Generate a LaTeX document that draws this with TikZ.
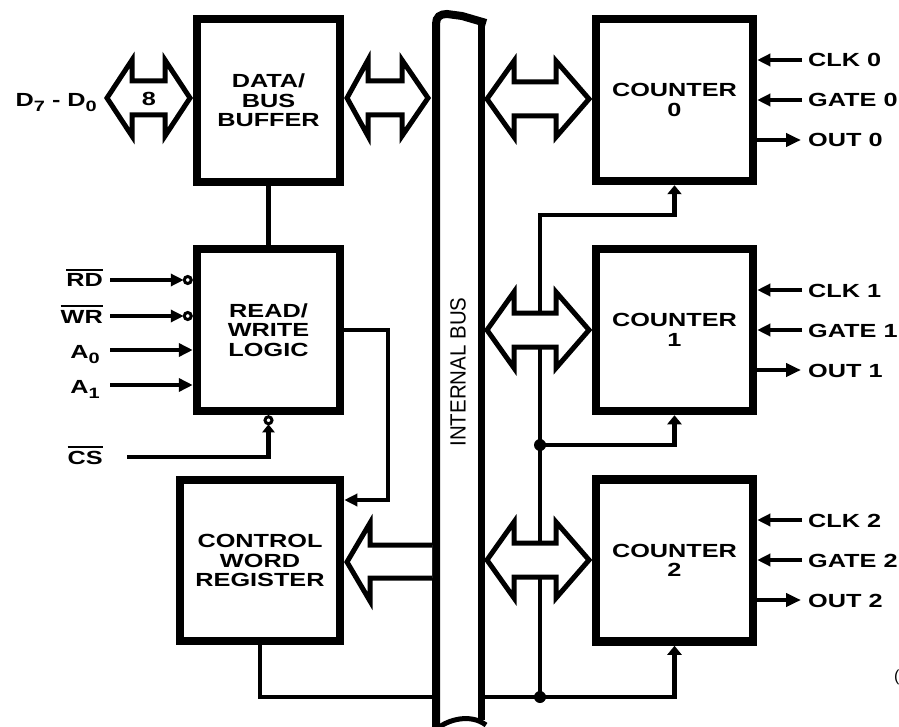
\documentclass[tikz,border=0pt]{standalone}
\usepackage{fontspec}
\setmainfont{Liberation Sans}
\newfontfamily\bx[FakeStretch=1.33]{Liberation Sans}
\newfontfamily\busf[FakeStretch=0.93]{Liberation Sans}
\usetikzlibrary{arrows.meta,calc}
\newcommand\negsig[1]{\leavevmode\vbox{\hrule height 2pt\kern 2.5pt\hbox{#1}}}
\newcommand\sbs[1]{\raisebox{-5pt}{\fontsize{15}{15}\selectfont #1}}
\newcommand\dblarr[5]{%
  \filldraw[blockarrow] (#1,#3) -- (#1+#4,#3-38) -- (#1+#4,#3-17) -- (#2-#5,#3-17) -- (#2-#5,#3-38) -- (#2,#3)
    -- (#2-#5,#3+38) -- (#2-#5,#3+17) -- (#1+#4,#3+17) -- (#1+#4,#3+38) -- cycle;}
\begin{document}
\begin{tikzpicture}[x=1pt,y=-1pt,
  box/.style={draw, line width=8.5pt, fill=white, inner sep=0pt, align=center,
    font=\bx\bfseries\fontsize{19}{19.5}\selectfont},
  conn/.style={line width=4.5pt},
  sig/.style={line width=4.5pt},
  lbl/.style={inner sep=0pt, font=\bx\bfseries\fontsize{19}{19}\selectfont},
  blockarrow/.style={line width=5pt, fill=white, line join=miter},
  tipR/.style={-{Triangle[length=13pt,width=12pt]}},
  tipA/.style={-{Triangle[length=14pt,width=13pt]}},
  tipU/.style={-{Triangle[length=8pt,width=12pt]}},
  tipS/.style={-{Triangle[length=9pt,width=14pt]}},
  tipO/.style={-{Triangle[length=15pt,width=13pt]}},
  bub/.style={line width=3pt, fill=white},
  jdot/.style={circle, fill=black, inner sep=0pt, minimum size=12pt}]
\useasboundingbox (0,0) rectangle (899,727);
\fill[white] (0,0) rectangle (899,727);

% boxes
\node[box, minimum width=143pt, minimum height=163pt] (dbb) at (268.5,100.5) {DATA/\\BUS\\BUFFER};
\node[box, minimum width=143pt, minimum height=162pt] (rwl) at (268.5,330) {READ/\\WRITE\\LOGIC};
\node[box, minimum width=160pt, minimum height=161pt] (cwr) at (260,560.5) {CONTROL\\WORD\\REGISTER};
\node[box, minimum width=157pt, minimum height=162pt] (c0) at (674.5,100) {COUNTER\\0};
\node[box, minimum width=157pt, minimum height=162pt] (c1) at (674.5,330) {COUNTER\\1};
\node[box, minimum width=157pt, minimum height=162pt] (c2) at (674.5,560.5) {COUNTER\\2};

% buffer to read/write logic
\draw[conn] (dbb.south) -- (rwl.north);

% left inputs
\coordinate (rdS) at (110,280);
\coordinate (wrS) at (110,316);
\coordinate (a0S) at (110,350);
\coordinate (a1S) at (110,385);
\coordinate (csS) at (127,457);
\node[lbl, anchor=base east] (rdL) at (103,287) {\negsig{RD}};
\node[lbl, anchor=base east] (wrL) at (103,323) {\negsig{WR}};
\node[lbl, anchor=base east] (a0L) at (100,358) {A\sbs{0}};
\node[lbl, anchor=base east] (a1L) at (100,393) {A\sbs{1}};
\node[lbl, anchor=base east] (csL) at (103,464) {\negsig{CS}};
\draw[sig, tipR] (rdS) -- ($(rdS -| rwl.west)+(-9,0)$);
\draw[bub] ($(rdS -| rwl.west)+(-5,0)$) circle[radius=3.5pt];
\draw[sig, tipR] (wrS) -- ($(wrS -| rwl.west)+(-9,0)$);
\draw[bub] ($(wrS -| rwl.west)+(-5,0)$) circle[radius=3.5pt];
\draw[sig, tipA] (a0S) -- (a0S -| rwl.west);
\draw[sig, tipA] (a1S) -- (a1S -| rwl.west);
\draw[sig, tipU] (csS) -| ($(rwl.south)+(0,9)$);
\draw[bub] ($(rwl.south)+(0,5)$) circle[radius=3.5pt];

% read/write logic to control word register
\coordinate (k) at (388,500);
\draw[conn, tipR] (rwl.east) -| (k) -- (k -| cwr.east);

% counter gate lines
\coordinate (j0) at (540,215);
\coordinate (j1) at (540,445);
\coordinate (j2) at (540,697);
\draw[conn, tipS] (cwr.south) |- (j2) -| (c2.south);
\draw[conn, tipS] (j2) -- (j0) -| (c0.south);
\draw[conn, tipS] (j1) -| (c1.south);
\node[jdot] (d1) at (j1) {};
\node[jdot] (d2) at (j2) {};

% internal bus
\fill[white] (436,20) rectangle (481,722);
\draw[line width=8pt] (436,730) -- (436,24) .. controls (436,17) and (440,14) .. (447,14) -- (462,16) -- (486,23);
\draw[line width=7pt] (481,21) -- (481,720);
\draw[line width=5pt] (438,728) .. controls (448,720) and (470,713) .. (486,725);
\node[rotate=90, inner sep=0pt, font=\busf\fontsize{22}{22}\selectfont] (busT) at (458,372) {INTERNAL BUS};

% block arrows
\dblarr{107}{190}{98}{25}{25}
\node[lbl] (eight) at (149,99) {8};
\node[lbl, anchor=base east] (dL) at (97,107) {D\sbs{7} - D\sbs{0}};
\dblarr{347}{428}{98}{21}{26}
\dblarr{487}{589}{99}{27}{33}
\dblarr{487}{589}{330}{27}{33}
\dblarr{487}{589}{560}{27}{33}
\filldraw[blockarrow] (432,545) -- (370,545) -- (370,523) -- (347,562) -- (370,601) -- (370,578) -- (432,578);

% counter signals
\foreach \i/\y in {0/100,1/330,2/560}{
  \coordinate (clk\i) at (802,\y-40);
  \coordinate (gate\i) at (802,\y);
  \coordinate (out\i) at (801,\y+40);
  \draw[sig, tipR] (clk\i) -- (clk\i -| c\i.east);
  \draw[sig, tipR] (gate\i) -- (gate\i -| c\i.east);
  \draw[sig, tipO] (out\i -| c\i.east) -- (out\i);
  \node[lbl, anchor=base west] (clkL\i) at (808,\y-33) {CLK \i};
  \node[lbl, anchor=base west] (gateL\i) at (808,\y+7) {GATE \i};
  \node[lbl, anchor=base west] (outL\i) at (808,\y+47) {OUT \i};
}
\node[anchor=base west, inner sep=0pt, font=\fontsize{16}{16}\selectfont] (stray) at (894,681) {(};
\end{tikzpicture}
\end{document}
